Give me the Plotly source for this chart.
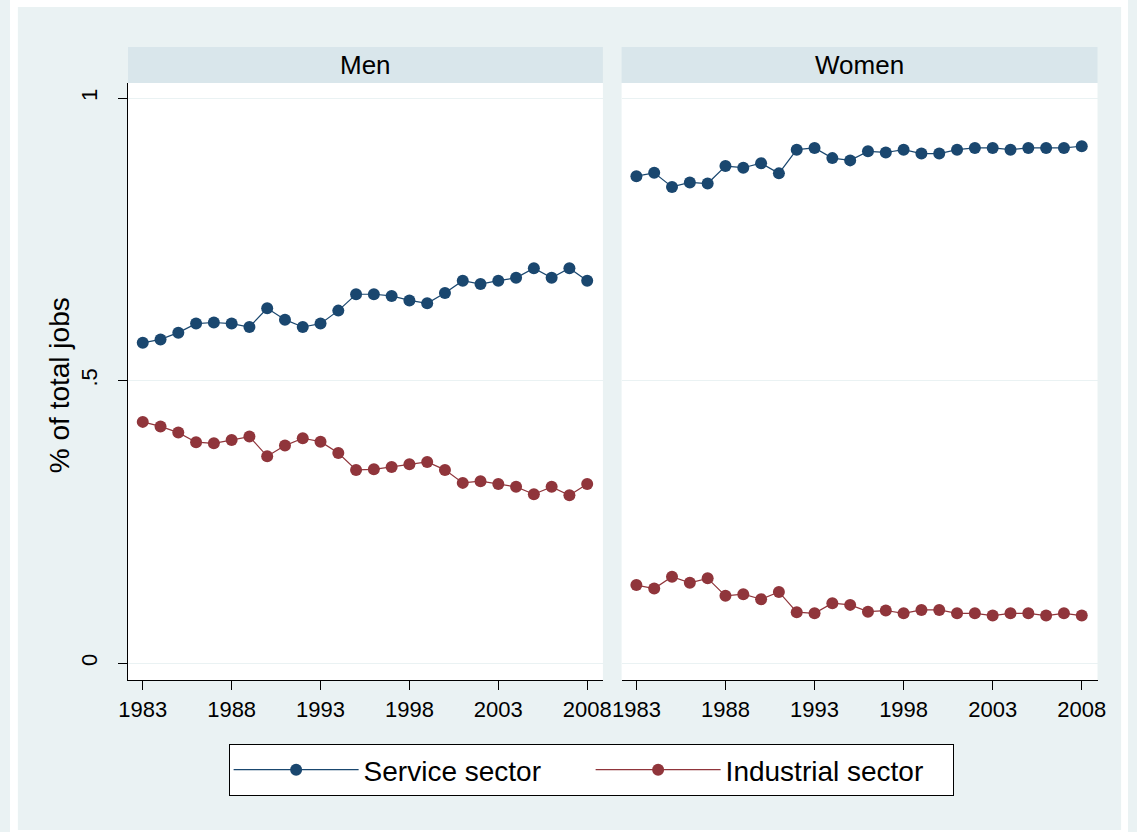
import plotly.graph_objects as go

years = list(range(1983, 2009))

# share of total jobs
men_service = [0.567, 0.573, 0.585, 0.601, 0.603, 0.601, 0.595, 0.628, 0.608, 0.595,
               0.601, 0.624, 0.653, 0.653, 0.650, 0.642, 0.637, 0.655, 0.677, 0.671,
               0.677, 0.682, 0.699, 0.682, 0.699, 0.677]
men_industry = [0.427, 0.419, 0.408, 0.391, 0.389, 0.395, 0.401, 0.366, 0.385, 0.398,
                0.392, 0.372, 0.342, 0.343, 0.347, 0.352, 0.356, 0.342, 0.319, 0.322,
                0.317, 0.312, 0.299, 0.312, 0.297, 0.317]
women_service = [0.862, 0.868, 0.843, 0.851, 0.849, 0.880, 0.877, 0.885, 0.867, 0.909,
                 0.912, 0.894, 0.890, 0.906, 0.904, 0.909, 0.902, 0.902, 0.909, 0.912,
                 0.912, 0.909, 0.912, 0.912, 0.912, 0.915]
women_industry = [0.138, 0.132, 0.153, 0.142, 0.150, 0.119, 0.122, 0.113, 0.126, 0.090,
                  0.088, 0.106, 0.103, 0.091, 0.093, 0.088, 0.094, 0.094, 0.088, 0.088,
                  0.084, 0.088, 0.088, 0.084, 0.088, 0.084]

panels = ["Men", "Women"]
series_names = ["Service sector", "Industrial sector"]
x_ticks = [1983, 1988, 1993, 1998, 2003, 2008]
y_ticks = [0, 0.5, 1]
y_ticklabels = ["0", ".5", "1"]

W, H = 1137, 832
navy = "#1A476F"
maroon = "#90353B"
bg = "#EAF2F3"
strip = "#D9E6EB"
font = "Liberation Sans, Arial, sans-serif"


def px_x(p):
    return p / W


def px_y(p):
    return 1 - p / H


fig = go.Figure()

data = {"Men": [men_service, men_industry], "Women": [women_service, women_industry]}
colors = [navy, maroon]
for k, panel in enumerate(panels):
    ax = "" if k == 0 else "2"
    for j, name in enumerate(series_names):
        fig.add_trace(go.Scatter(
            x=years, y=data[panel][j], name=name, mode="lines+markers",
            line=dict(color=colors[j], width=1.2),
            marker=dict(symbol="circle", size=12, color=colors[j]),
            legendgroup=name, showlegend=(k == 0),
            xaxis="x" + ax, yaxis="y" + ax))

xcommon = dict(range=[1982.17, 2008.885], tickvals=x_ticks, ticks="outside", ticklen=9,
               tickcolor="black", showline=True, linecolor="black", linewidth=1.3,
               showgrid=False, zeroline=False, tickfont=dict(size=22, color="black", family=font))
ycommon = dict(range=[-0.030, 1.027], tickvals=y_ticks, ticktext=y_ticklabels,
               showgrid=True, gridcolor=bg, gridwidth=1.2, zeroline=False,
               domain=[px_y(680), px_y(83)])

panel_x = [(120, 603), (622, 1106)]

fig.update_layout(
    width=W, height=H,
    margin=dict(l=0, r=0, t=0, b=0),
    paper_bgcolor=bg, plot_bgcolor="white",
    font=dict(family=font, color="black"),
    xaxis=dict(xcommon, domain=[px_x(120), px_x(603)], anchor="y"),
    xaxis2=dict(xcommon, domain=[px_x(622), px_x(1106)], anchor="y2"),
    yaxis=dict(ycommon, anchor="x", showline=True, linecolor="black", linewidth=1.3,
               ticks="outside", ticklen=9, tickcolor="black", tickangle=-90,
               ticklabelstandoff=12,
               tickfont=dict(size=22, color="black", family=font)),
    yaxis2=dict(ycommon, anchor="x2", showticklabels=False, showline=False, ticks=""),
    legend=dict(orientation="h", x=px_x(591), xanchor="center", y=px_y(744), yanchor="top",
                bgcolor="white", bordercolor="black", borderwidth=1,
                font=dict(size=28, color="black", family=font),
                itemwidth=125, entrywidth=222, tracegroupgap=0),
)

# white frame around the graph region
shapes = [
    dict(type="rect", xref="paper", yref="paper", x0=0, x1=1, y0=px_y(7), y1=1),
    dict(type="rect", xref="paper", yref="paper", x0=0, x1=1, y0=0, y1=px_y(830)),
    dict(type="rect", xref="paper", yref="paper", x0=0, x1=px_x(8), y0=0, y1=1),
    dict(type="rect", xref="paper", yref="paper", x0=px_x(1130), x1=1, y0=0, y1=1),
]
for s in shapes:
    s.update(fillcolor="white", line=dict(width=0), layer="above")

# panel header strips
annotations = []
for panel, (a, b) in zip(panels, panel_x):
    shapes.append(dict(type="rect", xref="paper", yref="paper",
                       x0=px_x(a), x1=px_x(b), y0=px_y(83), y1=px_y(47),
                       fillcolor=strip, line=dict(width=0), layer="above"))
    annotations.append(dict(text=panel, xref="paper", yref="paper",
                            x=px_x((a + b) / 2), y=px_y(65), showarrow=False,
                            xanchor="center", yanchor="middle",
                            font=dict(size=26, color="black", family=font)))

annotations.append(dict(text="% of total jobs", xref="paper", yref="paper",
                        x=px_x(50), y=px_y(385), textangle=-90, showarrow=False,
                        xanchor="center", yanchor="middle",
                        font=dict(size=28, color="black", family=font)))

fig.update_layout(shapes=shapes, annotations=annotations)

# drop the page's default body margin so the figure sits at 0,0, no modebar
fig.write_html("out.html", config={"displayModeBar": False},
               post_script="document.body.style.margin='0';")
